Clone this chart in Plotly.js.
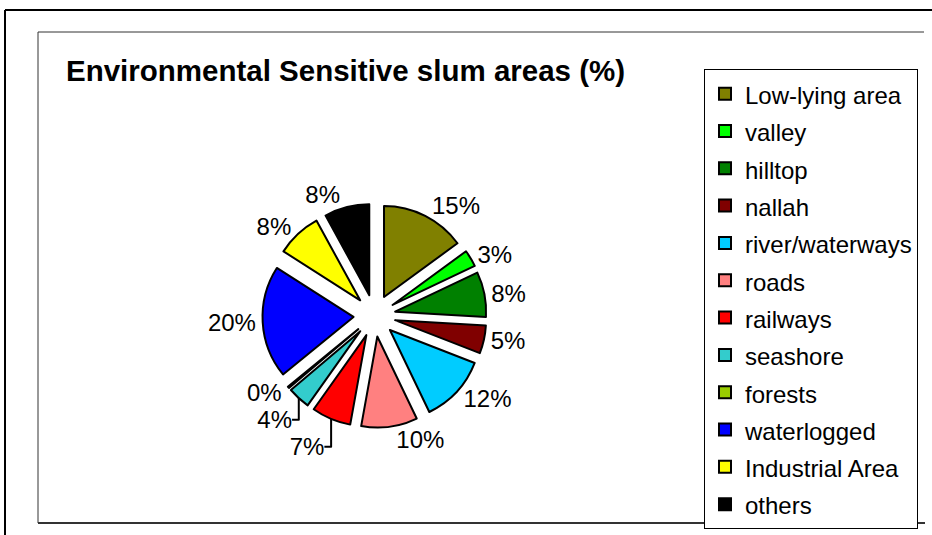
<!DOCTYPE html>
<html>
<head>
<meta charset="utf-8">
<script src="https://cdn.plot.ly/plotly-3.0.1.min.js"></script>
<style>html,body{margin:0;padding:0;background:#fff;}#chart{width:932px;height:535px;}</style>
</head>
<body>
<div id="chart"></div>
<script>
// ---- data ----
const categories = ["Low-lying area", "valley", "hilltop", "nallah", "river/waterways", "roads",
                    "railways", "seashore", "forests", "waterlogged", "Industrial Area", "others"];
const shares = [15, 3, 8, 5, 12, 10, 7, 4, 0.3, 20, 8, 8]; // forests drawn as a thin sliver labelled 0%
const sliceColors = ["#808000", "#00FF00", "#008000", "#800000", "#00CCFF", "#FF8080",
                     "#FF0000", "#33CCCC", "#99CC00", "#0000FF", "#FFFF00", "#000000"];
const chartTitle = "Environmental Sensitive slum areas (%)";

const W = 932, H = 535;
const px = x => x / W;
const py = y => 1 - y / H;

const FONT = "Liberation Sans, Arial, Helvetica, sans-serif";
const legendLabels = categories.map(c => '<span style="font-size:24px">' + c + '</span>');

const cx = 374.5, cy = 315.7, half = 112;

const trace = {
  type: "pie",
  labels: legendLabels,
  values: shares,
  sort: false,
  direction: "clockwise",
  rotation: 0,
  pull: shares.map(() => 0.231),
  marker: { colors: sliceColors, line: { color: "#000", width: 2 } },
  textposition: "outside",
  texttemplate: "%{percent:.0%}",
  textfont: { family: FONT, size: 24, color: "#000" },
  outsidetextfont: { family: FONT, size: 24, color: "#000" },
  hoverinfo: "label+percent",
  domain: { x: [px(cx - half), px(cx + half)], y: [py(cy + half), py(cy - half)] }
};

const lineStyle = (w, c) => ({ color: c, width: w });
const layout = {
  width: W, height: H,
  margin: { l: 0, r: 0, t: 0, b: 0 },
  paper_bgcolor: "#fff",
  plot_bgcolor: "#fff",
  font: { family: FONT, color: "#000" },
  title: {
    text: chartTitle,
    font: { family: FONT, size: 29.5, weight: "bold", color: "#000" },
    xref: "paper", x: px(66), xanchor: "left",
    yref: "container", y: py(60), yanchor: "top"
  },
  showlegend: true,
  legend: {
    x: px(704), xanchor: "left",
    y: py(69), yanchor: "top",
    bordercolor: "#000", borderwidth: 1,
    bgcolor: "#fff",
    font: { family: FONT, size: 26.4, color: "#000" },
    traceorder: "normal"
  },
  shapes: [
    // outer frame
    { type: "line", xref: "paper", yref: "paper", x0: px(5), x1: px(5), y0: py(10), y1: py(540), line: lineStyle(2, "#000") },
    { type: "line", xref: "paper", yref: "paper", x0: px(5), x1: px(940), y0: py(10), y1: py(10), line: lineStyle(2, "#000") },
    // inner frame (top, left, bottom)
    { type: "line", xref: "paper", yref: "paper", x0: px(38), x1: px(924), y0: py(32), y1: py(32), line: lineStyle(1, "#333") },
    { type: "line", xref: "paper", yref: "paper", x0: px(38), x1: px(38), y0: py(32), y1: py(523), line: lineStyle(1, "#333") },
    { type: "line", xref: "paper", yref: "paper", x0: px(38), x1: px(925), y0: py(523), y1: py(523), line: lineStyle(2, "#333") }
  ]
};

Plotly.newPlot("chart", [trace], layout, { displayModeBar: false, staticPlot: true });
</script>
</body>
</html>
